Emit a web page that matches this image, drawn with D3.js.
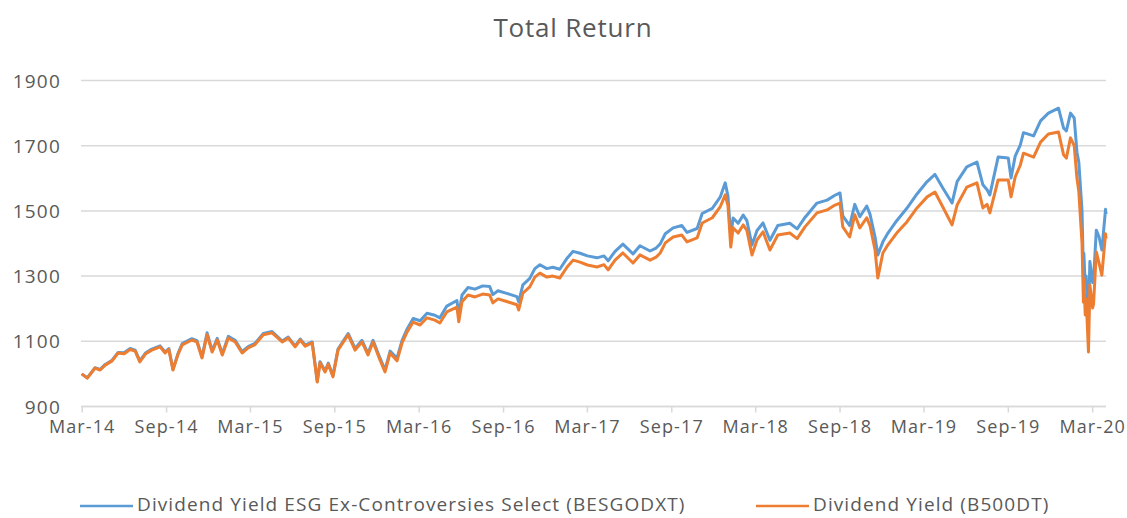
<!DOCTYPE html>
<html>
<head>
<meta charset="utf-8">
<script src="https://cdn.jsdelivr.net/npm/d3@7"></script>
<style>
  body { margin: 0; background: #fff; }
  text { font-family: "Open Sans", sans-serif; fill: #595959; }
</style>
</head>
<body>
<div id="chart"></div>
<script>
var dates = [
  "2014-03-31","2014-04-12","2014-04-29","2014-05-10","2014-05-21","2014-06-05","2014-06-18","2014-07-01",
  "2014-07-14","2014-07-25","2014-08-04","2014-08-17","2014-08-30","2014-09-17","2014-09-28","2014-10-06",
  "2014-10-15","2014-10-26","2014-11-04","2014-11-25","2014-12-06","2014-12-17","2014-12-28","2015-01-08",
  "2015-01-19","2015-01-30","2015-02-12","2015-02-27","2015-03-14","2015-03-27","2015-04-11","2015-04-29",
  "2015-05-18","2015-06-09","2015-06-22","2015-07-07","2015-07-18","2015-07-29","2015-08-13","2015-08-24",
  "2015-08-30","2015-09-10","2015-09-17","2015-09-27","2015-10-08","2015-10-30","2015-11-14","2015-11-29",
  "2015-12-12","2015-12-23","2016-01-07","2016-01-18","2016-01-29","2016-02-13","2016-02-24","2016-03-06",
  "2016-03-19","2016-04-03","2016-04-18","2016-05-05","2016-05-16","2016-05-31","2016-06-22","2016-06-26",
  "2016-07-03","2016-07-16","2016-07-31","2016-08-17","2016-09-01","2016-09-08","2016-09-19","2016-10-08",
  "2016-10-30","2016-11-03","2016-11-12","2016-11-27","2016-12-08","2016-12-19","2017-01-03","2017-01-16",
  "2017-01-31","2017-02-16","2017-03-01","2017-03-16","2017-04-01","2017-04-22","2017-05-07","2017-05-16",
  "2017-05-31","2017-06-17","2017-07-09","2017-07-24","2017-08-15","2017-08-28","2017-09-06","2017-09-17",
  "2017-10-04","2017-10-23","2017-11-03","2017-11-25","2017-12-06","2017-12-28","2018-01-14","2018-01-25",
  "2018-01-31","2018-02-06","2018-02-11","2018-02-22","2018-03-05","2018-03-13","2018-03-24","2018-04-04",
  "2018-04-17","2018-05-02","2018-05-19","2018-06-14","2018-06-30","2018-07-17","2018-08-12","2018-09-03",
  "2018-09-20","2018-10-01","2018-10-07","2018-10-22","2018-11-02","2018-11-13","2018-11-28","2018-12-05",
  "2018-12-16","2018-12-22","2019-01-02","2019-01-13","2019-02-01","2019-02-23","2019-03-17","2019-04-08",
  "2019-04-25","2019-05-12","2019-06-01","2019-06-12","2019-07-03","2019-07-25","2019-08-07","2019-08-16",
  "2019-08-22","2019-09-09","2019-10-01","2019-10-07","2019-10-16","2019-10-27","2019-11-03","2019-11-25",
  "2019-12-10","2019-12-27","2020-01-18","2020-01-29","2020-02-04","2020-02-13","2020-02-21","2020-02-27",
  "2020-03-02","2020-03-09","2020-03-12","2020-03-13","2020-03-16","2020-03-18","2020-03-23","2020-03-26",
  "2020-04-01","2020-04-03","2020-04-09","2020-04-15","2020-04-21","2020-04-29","2020-04-30"
];

// Dividend Yield ESG Ex-Controversies Select (BESGODXT)
var besgodxt = [
  1000, 988, 1019, 1014, 1029, 1042, 1066, 1065,
  1078, 1073, 1040, 1065, 1076, 1086, 1067, 1078,
  1014, 1063, 1093, 1108, 1102, 1052, 1126, 1071,
  1109, 1062, 1115, 1103, 1068, 1084, 1094, 1124,
  1130, 1101, 1113, 1086, 1107, 1088, 1098, 978,
  1037, 1009, 1033, 994, 1076, 1124, 1078, 1103,
  1063, 1103, 1049, 1012, 1070, 1048, 1103, 1138,
  1170, 1163, 1186, 1180, 1172, 1208, 1225, 1180,
  1242, 1265, 1260, 1270, 1268, 1243, 1255, 1247,
  1237, 1221, 1273, 1293, 1323, 1335, 1323, 1327,
  1321, 1355, 1376, 1370, 1362, 1356, 1362, 1347,
  1376, 1398, 1368, 1393, 1377, 1386, 1399, 1430,
  1448, 1455, 1434, 1446, 1492, 1508, 1542, 1586,
  1545, 1420, 1478, 1462, 1487, 1470, 1395, 1440,
  1463, 1410, 1455, 1462, 1445, 1480, 1524, 1533,
  1548, 1555, 1485, 1455, 1520, 1482, 1515, 1490,
  1420, 1365, 1405, 1432, 1470, 1508, 1552, 1590,
  1612, 1570, 1524, 1590, 1635, 1650, 1580, 1565,
  1549, 1665, 1662, 1601, 1668, 1702, 1740, 1730,
  1776, 1800, 1815, 1754, 1745, 1800, 1785, 1680,
  1650, 1500, 1310, 1370, 1265, 1300, 1160, 1345,
  1280, 1290, 1441, 1420, 1380, 1505, 1490
];

// Dividend Yield (B500DT)
var b500dt = [
  1000, 987, 1018, 1012, 1027, 1040, 1064, 1062,
  1075, 1070, 1037, 1062, 1073, 1083, 1064, 1075,
  1012, 1060, 1089, 1104, 1098, 1049, 1120, 1067,
  1104, 1058, 1110, 1098, 1064, 1080, 1090, 1120,
  1126, 1098, 1110, 1083, 1104, 1085, 1095, 975,
  1034, 1006, 1030, 991, 1073, 1120, 1073, 1098,
  1058, 1098, 1043, 1006, 1064, 1040, 1095, 1129,
  1159, 1150, 1172, 1165, 1156, 1190, 1205, 1160,
  1221, 1242, 1236, 1245, 1242, 1218, 1230, 1222,
  1212, 1196, 1248, 1267, 1297, 1309, 1297, 1300,
  1294, 1328, 1349, 1343, 1334, 1328, 1335, 1319,
  1349, 1371, 1340, 1365, 1349, 1358, 1371, 1402,
  1420, 1426, 1405, 1417, 1463, 1479, 1512, 1549,
  1515, 1389, 1448, 1432, 1457, 1440, 1365, 1411,
  1436, 1380, 1426, 1432, 1415, 1451, 1494, 1503,
  1518, 1524, 1451, 1420, 1488, 1448, 1479, 1455,
  1380, 1294, 1371, 1396, 1432, 1466, 1509, 1543,
  1558, 1512, 1457, 1518, 1573, 1586, 1509, 1520,
  1494, 1595, 1595, 1543, 1604, 1640, 1677, 1665,
  1711, 1736, 1742, 1672, 1662, 1724, 1700, 1600,
  1560, 1400, 1220, 1290, 1181, 1230, 1067, 1273,
  1202, 1215, 1374, 1340, 1303, 1430, 1415
];

var yTicks = [900, 1100, 1300, 1500, 1700, 1900];
var xTicks = ["2014-03-31","2014-09-30","2015-03-31","2015-09-30","2016-03-31","2016-09-30","2017-03-31",
              "2017-09-30","2018-03-31","2018-09-30","2019-03-31","2019-09-30","2020-03-31"];
var seriesNames = ["Dividend Yield ESG Ex-Controversies Select (BESGODXT)", "Dividend Yield (B500DT)"];
var colors = ["#5B9BD5", "#ED7D31"];

var width = 1127, height = 518;
var parse = d3.timeParse("%Y-%m-%d");

var svg = d3.select("#chart").append("svg")
    .attr("width", width)
    .attr("height", height);

var x = d3.scaleTime()
    .domain([parse("2014-03-31"), parse("2020-04-30")])
    .range([81.7, 1106]);

var y = d3.scaleLinear()
    .domain([900, 1900])
    .range([406.5, 80.5]);

// title
svg.append("text")
    .attr("x", 573)
    .attr("y", 37)
    .attr("text-anchor", "middle")
    .style("font-size", "26px")
    .style("letter-spacing", "0.8px")
    .text("Total Return");

// gridlines
svg.append("g")
    .selectAll("line")
    .data(yTicks)
    .enter().append("line")
    .attr("x1", 81)
    .attr("x2", 1106)
    .attr("y1", d => y(d))
    .attr("y2", d => y(d))
    .attr("stroke", "#D9D9D9")
    .attr("stroke-width", 1.5);

// y labels
svg.append("g")
    .selectAll("text")
    .data(yTicks)
    .enter().append("text")
    .attr("x", 61)
    .attr("y", d => y(d) + 7)
    .attr("text-anchor", "end")
    .style("font-size", "19px")
    .style("letter-spacing", "1.2px")
    .text(d => d);

// x axis
var xAxis = d3.axisBottom(x)
    .tickValues(xTicks.map(parse))
    .tickFormat(d3.timeFormat("%b-%y"))
    .tickSize(6)
    .tickPadding(8);

var gx = svg.append("g")
    .attr("transform", "translate(0," + y(900) + ")")
    .call(xAxis);
gx.select(".domain").attr("stroke", "#D9D9D9").attr("stroke-width", 1.5)
    .attr("d", "M81,0H1106");
gx.selectAll(".tick line").attr("stroke", "#D9D9D9").attr("stroke-width", 1.5);
gx.selectAll(".tick text")
    .style("font-size", "18px")
    .style("letter-spacing", "1.1px")
    .style("font-family", "'Open Sans', sans-serif")
    .attr("fill", "#595959");

// lines
var line = d3.line()
    .x((d, i) => x(parse(dates[i])))
    .y(d => y(d));

[besgodxt, b500dt].forEach(function (s, k) {
    svg.append("path")
        .attr("d", line(s))
        .attr("fill", "none")
        .attr("stroke", colors[k])
        .attr("stroke-width", 3)
        .attr("stroke-linejoin", "round");
});

// legend
var legendX = [80, 756];
seriesNames.forEach(function (name, k) {
    svg.append("line")
        .attr("x1", legendX[k])
        .attr("x2", legendX[k] + 53)
        .attr("y1", 506)
        .attr("y2", 506)
        .attr("stroke", colors[k])
        .attr("stroke-width", 2.5);
    svg.append("text")
        .attr("x", legendX[k] + 57)
        .attr("y", 511)
        .style("font-size", "19px")
        .style("letter-spacing", "1.1px")
        .text(name);
});
</script>
</body>
</html>
